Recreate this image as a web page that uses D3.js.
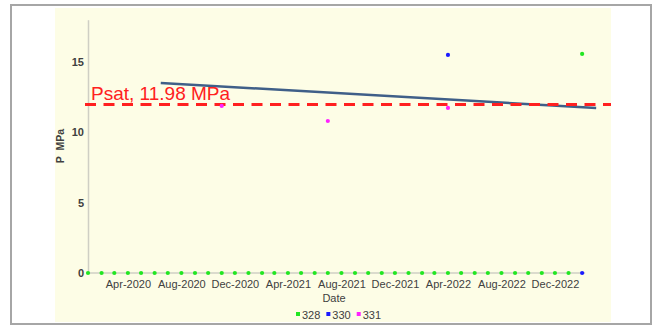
<!DOCTYPE html>
<html>
<head>
<meta charset="utf-8">
<script src="https://cdn.jsdelivr.net/npm/d3@7"></script>
<style>
  html, body { margin: 0; padding: 0; background: #ffffff; }
  svg { display: block; font-family: "Liberation Sans", Arial, sans-serif; }
</style>
</head>
<body>
<svg id="chart" width="656" height="327"></svg>
<script>
// Monthly pressure readings per well (MPa)
const months = d3.timeMonth.range(new Date(2020, 0, 1), new Date(2023, 2, 1)); // Jan 2020 .. Feb 2023
const series328 = [
  0,0,0,0,0,0,0,0,0,0,0,0,
  0,0,0,0,0,0,0,0,0,0,0,0,
  0,0,0,0,0,0,0,0,0,0,0,0,
  0, 15.57
];
const dates330 = ["2022-04-01", "2023-02-01"];
const series330 = [15.5, 0];
const dates331 = ["2020-11-01", "2021-07-01", "2022-04-01"];
const series331 = [11.87, 10.8, 11.73];
const trendDates = ["2020-06-15", "2023-03-05"];
const trendValues = [13.5, 11.73];
const psat = 11.98;
const yTicks = [0, 5, 10, 15];
const xTickDates = ["2020-04-01","2020-08-01","2020-12-01","2021-04-01","2021-08-01","2021-12-01","2022-04-01","2022-08-01","2022-12-01"];
const seriesNames = ["328", "330", "331"];
const seriesColors = ["#22e622", "#1a1aff", "#ff22ff"];

const parse = d3.timeParse("%Y-%m-%d");
const svg = d3.select("#chart");

// frame and plot background
svg.append("rect").attr("x", 11).attr("y", 5).attr("width", 640).attr("height", 319)
  .attr("fill", "#ffffff").attr("stroke", "#a6a6a6").attr("stroke-width", 2);
svg.append("rect").attr("x", 55).attr("y", 8).attr("width", 556).attr("height", 314)
  .attr("fill", "#fdfde6");

const x = d3.scaleTime()
  .domain([new Date(2020, 0, 1), new Date(2023, 3, 1)])
  .range([88, 608]);
const y = d3.scaleLinear().domain([0, 18]).range([273, 19.7]);

// axes
const yAxis = svg.append("g").attr("transform", "translate(88,0)")
  .call(d3.axisLeft(y).tickValues(yTicks).tickSize(0).tickPadding(4).tickFormat(d3.format("d")));
yAxis.select(".domain").attr("stroke", "#cfcfc4").attr("stroke-width", 1.5);
yAxis.selectAll("text").attr("font-size", 11).attr("fill", "#404040").attr("font-weight", "bold");

const lastDate = months[months.length - 1];
const xAxis = svg.append("g").attr("transform", "translate(0,273)")
  .call(d3.axisBottom(x).tickValues(xTickDates.map(parse)).tickSize(0).tickPadding(7)
    .tickFormat(d3.timeFormat("%b-%Y")));
xAxis.select(".domain").remove();
xAxis.selectAll("text").attr("font-size", 11).attr("fill", "#404040");
svg.append("line")
  .attr("x1", x(months[0])).attr("x2", x(lastDate) + 3)
  .attr("y1", y(0)).attr("y2", y(0))
  .attr("stroke", "#cfcfc4").attr("stroke-width", 1.5);

// axis titles
svg.append("text").attr("transform", "translate(64,146) rotate(-90)")
  .attr("text-anchor", "middle").attr("font-size", 10.5).attr("font-weight", "bold")
  .attr("fill", "#404040").attr("xml:space", "preserve").text("P  MPa");
svg.append("text").attr("x", 334).attr("y", 302).attr("text-anchor", "middle")
  .attr("font-size", 11).attr("fill", "#404040").text("Date");

// trend line
const trend = trendDates.map((d, i) => ({ date: parse(d), value: trendValues[i] }));
svg.append("path").datum(trend)
  .attr("d", d3.line().x(d => x(d.date)).y(d => y(d.value)))
  .attr("fill", "none").attr("stroke", "#3f5f88").attr("stroke-width", 2.5);

// saturation pressure reference
svg.append("line").attr("x1", 85).attr("x2", 611)
  .attr("y1", y(psat)).attr("y2", y(psat))
  .attr("stroke", "#ff2020").attr("stroke-width", 3).attr("stroke-dasharray", "11,7.5");
svg.append("text").attr("x", 91).attr("y", y(psat) - 4)
  .attr("font-size", 19).attr("fill", "#ff2020").text("Psat, " + psat + " MPa");

// points
const pts = [
  months.map((d, i) => ({ date: d, value: series328[i] })),
  dates330.map((d, i) => ({ date: parse(d), value: series330[i] })),
  dates331.map((d, i) => ({ date: parse(d), value: series331[i] }))
];
pts.forEach((data, k) => {
  svg.append("g").selectAll("circle").data(data).join("circle")
    .attr("cx", d => x(d.date)).attr("cy", d => y(d.value)).attr("r", 2.1)
    .attr("fill", seriesColors[k]);
});

// legend
const legend = svg.append("g").attr("transform", "translate(296,315)");
let lx = 0;
seriesNames.forEach((name, k) => {
  legend.append("rect").attr("x", lx).attr("y", -3).attr("width", 4).attr("height", 4)
    .attr("fill", seriesColors[k]);
  const t = legend.append("text").attr("x", lx + 6).attr("y", 4)
    .attr("font-size", 11).attr("fill", "#404040").text(name);
  lx += 6 + t.node().getComputedTextLength() + 6;
});
</script>
</body>
</html>
